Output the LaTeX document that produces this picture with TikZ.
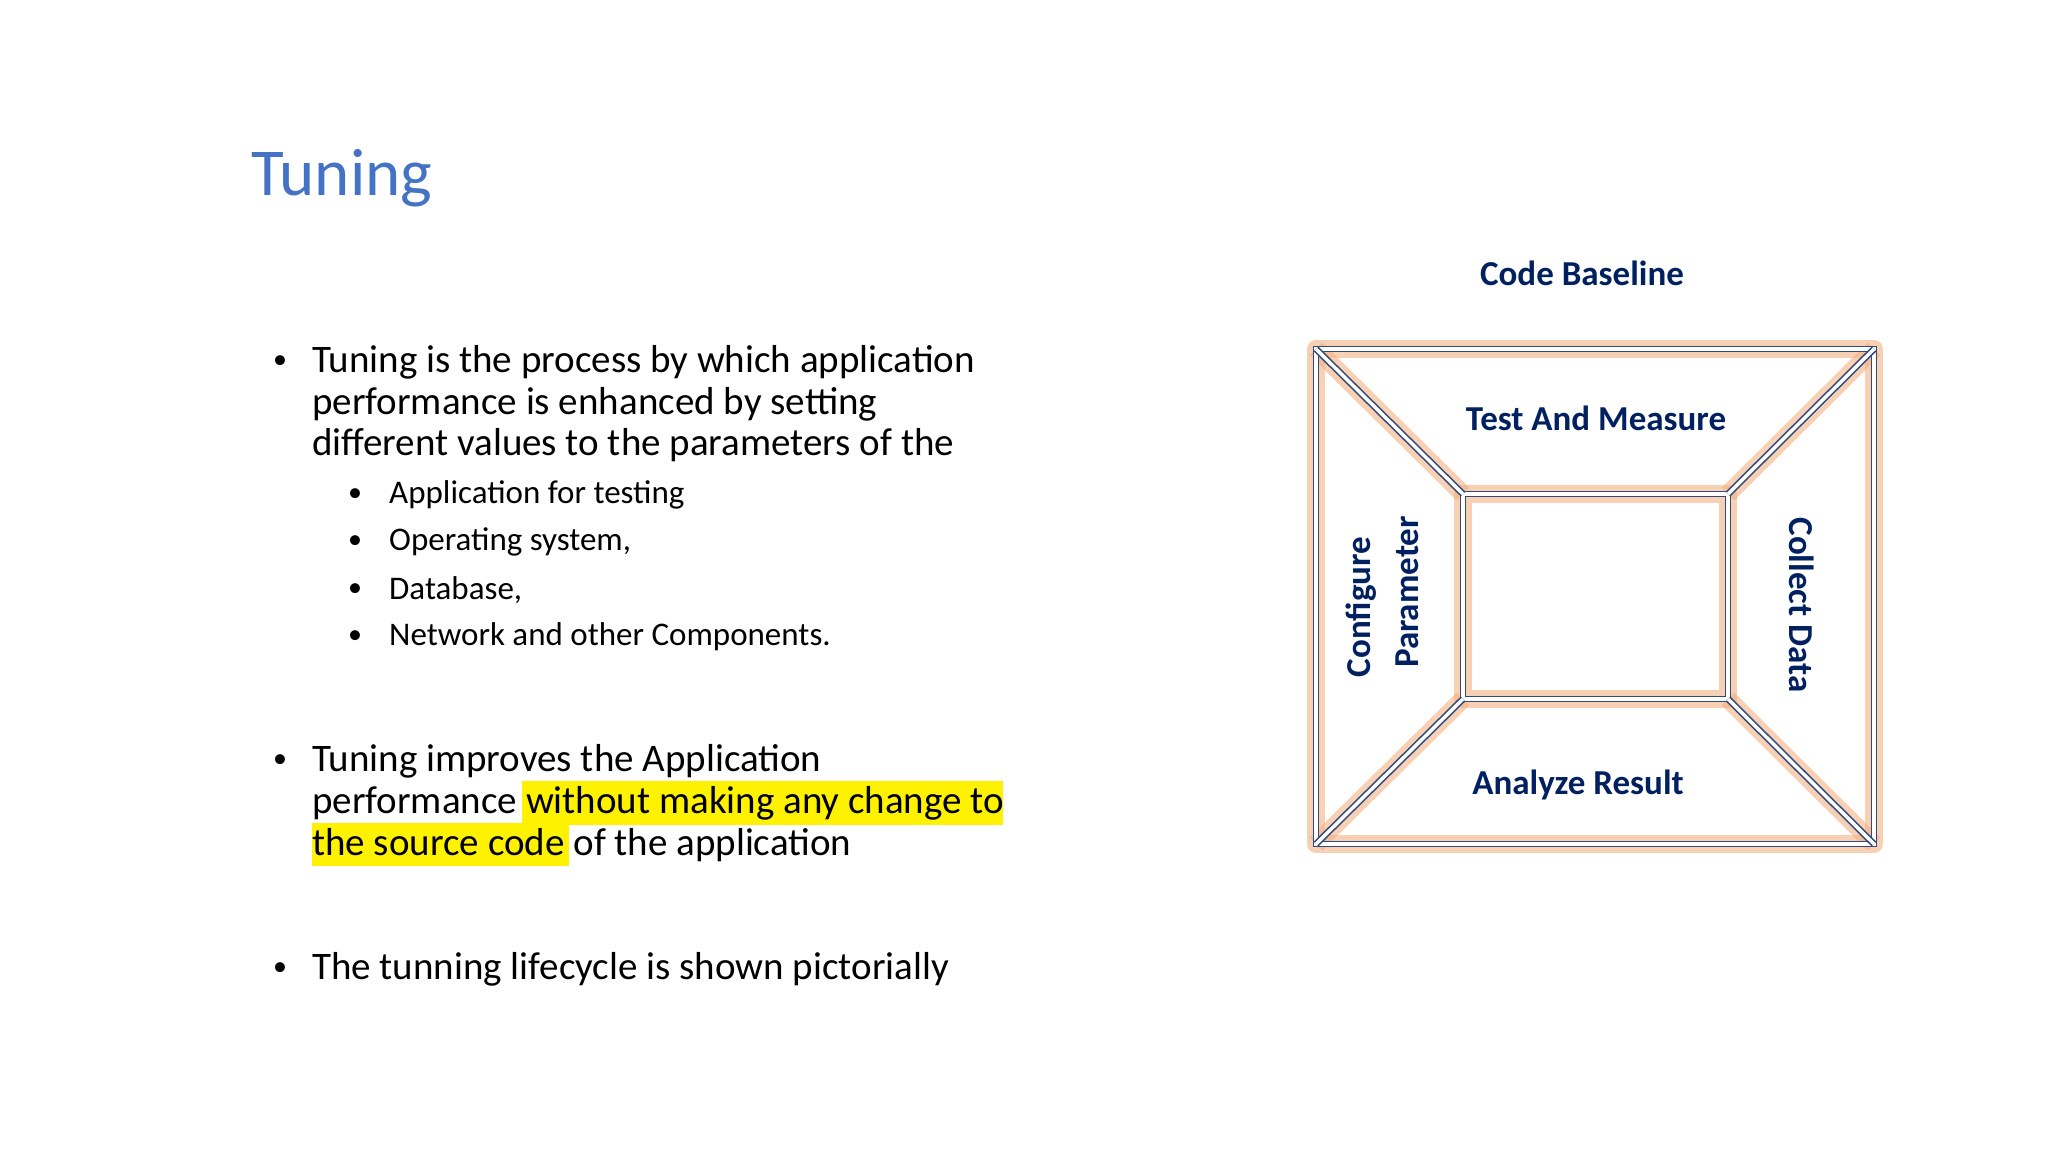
\documentclass[tikz,border=0pt]{standalone}
\usepackage{fontspec}
\setmainfont{Carlito}
\definecolor{ttl}{HTML}{4472C4}
\definecolor{navy}{HTML}{002060}
\definecolor{ln}{HTML}{2F4A7F}
\definecolor{glow}{HTML}{F4B183}
\tikzset{
 body/.style={anchor=west,inner sep=0pt,font=\fontsize{39}{44}\selectfont},
 sub/.style={anchor=west,inner sep=0pt,font=\fontsize{33}{38}\selectfont},
 dot/.style={inner sep=0pt,font=\fontsize{28}{30}\selectfont},
 lbl/.style={font=\bfseries\fontsize{35}{40}\selectfont,text=navy,inner sep=0pt},
 glowline/.style={draw=glow,line width=18pt,opacity=0.6,line join=round},
 dline/.style={draw=ln,double=white,double distance=3.5pt,line width=1.6pt,line join=miter}
}
\begin{document}
\begin{tikzpicture}[x=1pt,y=-1pt]
\useasboundingbox (0,0) rectangle (2048,1152);
\fill[white] (0,0) rectangle (2048,1152);
\node[anchor=west,inner sep=0pt,text=ttl,font=\fontsize{67}{72}\selectfont] (title) at (251,178) {Tuning};
% bullets
\foreach \y in {362,761,969} \node[dot] at (280,\y) {•};
\foreach \y in {495,542,590,637} \node[dot] at (355,\y) {•};
\fill[yellow] (522,781) rectangle (1003,825);
\fill[yellow] (312,823) rectangle (569,866);
\node[body] (l1) at (312,362) {Tuning is the process by which application};
\node[body] (l2) at (312,404) {performance is enhanced by setting};
\node[body] (l3) at (312,445) {different values to the parameters of the};
\node[sub] (s1) at (389,495) {Application for testing};
\node[sub] (s2) at (389,542) {Operating system,};
\node[sub] (s3) at (389,590) {Database,};
\node[sub] (s4) at (389,637) {Network and other Components.};
\node[body] (m1) at (312,761) {Tuning improves the Application};
\node[body] (m2) at (312,803) {performance without making any change to};
\node[body] (m3) at (312,845) {the source code of the application};
\node[body] (b3) at (312,969) {The tunning lifecycle is shown pictorially};
% diagram
\coordinate (A) at (1316,349); \coordinate (B) at (1874,349);
\coordinate (C) at (1874,844); \coordinate (D) at (1316,844);
\coordinate (a) at (1463,494); \coordinate (b) at (1728,494);
\coordinate (c) at (1728,699); \coordinate (d) at (1463,699);
\foreach \s in {glowline,dline}{
 \path[\s] (A) -- (B) -- (C) -- (D) -- cycle;
 \path[\s] (a) -- (b) -- (c) -- (d) -- cycle;
 \path[\s] (A) -- (a); \path[\s] (B) -- (b);
 \path[\s] (C) -- (c); \path[\s] (D) -- (d);
}
\node[lbl] (cb) at (1582,273) {Code Baseline};
\node[lbl] (tm) at (1596,418) {Test And Measure};
\node[lbl] (ar) at (1578,785) {Analyze Result};
\node[lbl,rotate=90] (cf) at (1361,607) {Configure};
\node[lbl,rotate=90] (pa) at (1407,592) {Parameter};
\node[lbl,rotate=-90] (cd) at (1802,605) {Collect Data};
\end{tikzpicture}
\end{document}
